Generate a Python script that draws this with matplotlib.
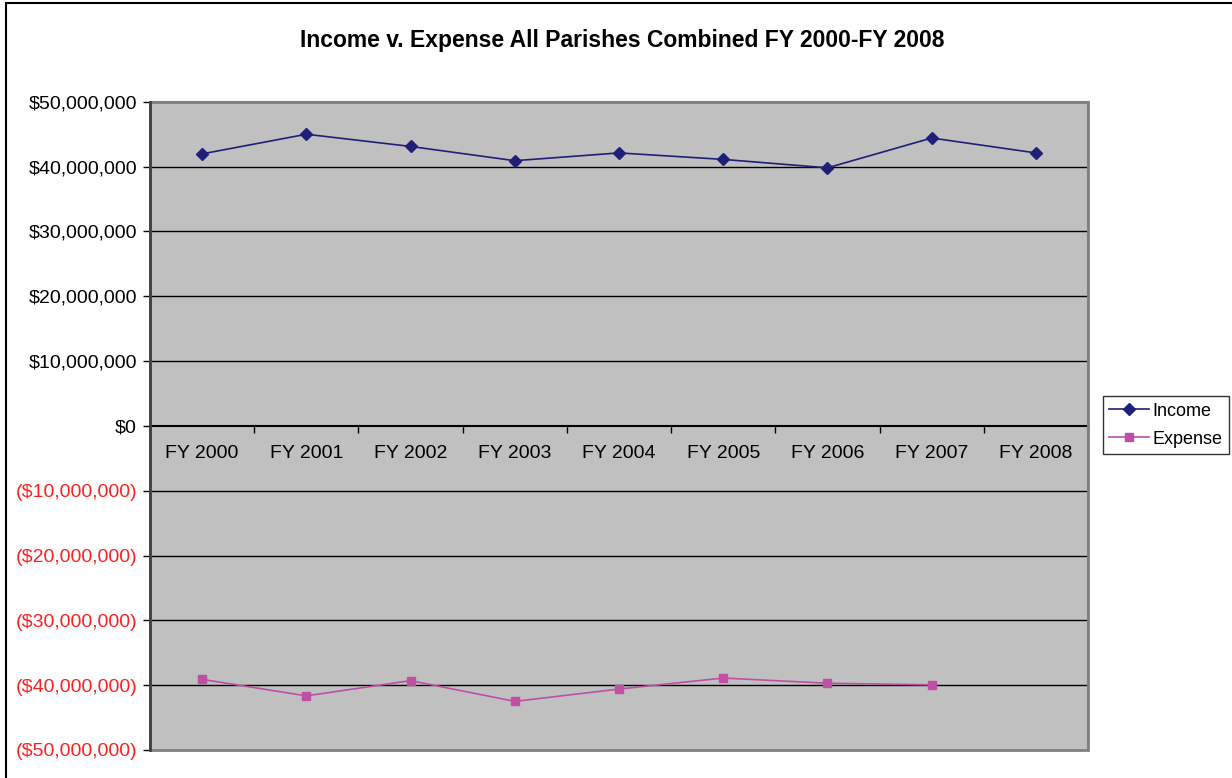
import matplotlib.pyplot as plt
from matplotlib.patches import Rectangle

years = ["FY 2000", "FY 2001", "FY 2002", "FY 2003", "FY 2004",
         "FY 2005", "FY 2006", "FY 2007", "FY 2008"]
income = [41.95e6, 44.98e6, 43.1e6, 40.9e6, 42.1e6, 41.1e6, 39.8e6, 44.4e6, 42.1e6]
expense = [-39.1e6, -41.65e6, -39.3e6, -42.5e6, -40.6e6, -38.9e6, -39.7e6, -39.95e6]
y_ticks = [50e6, 40e6, 30e6, 20e6, 10e6, 0, -10e6, -20e6, -30e6, -40e6, -50e6]


def money(v):
    s = "${:,.0f}".format(abs(v))
    return f"({s})" if v < 0 else s


plt.rcParams['font.family'] = ['Liberation Sans', 'DejaVu Sans']

fig = plt.figure(figsize=(12.32, 7.78), dpi=100)
ax = fig.add_axes([150 / 1232, 1 - 750 / 778, (1088 - 150) / 1232, (750 - 101.7) / 778])

# chart border (only top and left edges fall inside the picture)
fig.patches.append(Rectangle((5.5 / 1232, -0.1), 1.1, 1.1 - 3 / 778,
                             transform=fig.transFigure, fill=False,
                             edgecolor='black', linewidth=1.5))

ax.set_facecolor('#C0C0C0')
ax.set_xlim(-0.5, len(years) - 0.5)
ax.set_ylim(-50e6, 50e6)

for y in y_ticks[1:-1]:
    if y != 0:
        ax.axhline(y, color='black', linewidth=1, zorder=1)

ax.plot(range(len(income)), income, color='#1F1F78', marker='D', markersize=6,
        linewidth=1.2, label='Income', zorder=3)
ax.plot(range(len(expense)), expense, color='#BF4FA5', marker='s', markersize=6,
        linewidth=1.2, label='Expense', zorder=3)

ax.set_yticks(y_ticks, [money(v) for v in y_ticks])
for lab, v in zip(ax.get_yticklabels(), y_ticks):
    lab.set_color('#FF2020' if v < 0 else 'black')
ax.tick_params(axis='y', direction='out', length=5, width=1, pad=4.3, labelsize=14)

# category axis crossing at zero
ax.spines['bottom'].set_position(('data', 0))
ax.spines['bottom'].set_linewidth(1.5)
ax.spines['bottom'].set_zorder(2)
ax.set_xticks([i - 0.5 for i in range(len(years) + 1)])
ax.set_xticklabels([])
ax.set_xticks(range(len(years)), minor=True)
ax.set_xticklabels(years, minor=True)
ax.tick_params(axis='x', which='major', direction='out', length=5, width=1)
ax.tick_params(axis='x', which='minor', length=0, pad=14, labelsize=14)

ax.spines['left'].set_linewidth(2)
ax.spines['left'].set_color('#404040')
ax.spines['left'].set_zorder(4)
for side in ['top', 'right']:
    ax.spines[side].set_color('#808080')
    ax.spines[side].set_linewidth(1.5)
ax.add_patch(Rectangle((0, 0), 1, 1, transform=ax.transAxes, fill=False,
                       edgecolor='#808080', linewidth=2, zorder=2, clip_on=False))

fig.text(622 / 1232, 1 - 40 / 778, "Income v. Expense All Parishes Combined FY 2000-FY 2008",
         ha='center', va='center', fontsize=16.5, fontweight='bold')

leg = ax.legend(loc='center left', bbox_to_anchor=(1.016, 0.501), fontsize=13,
                frameon=True, fancybox=False, edgecolor='black', borderpad=0.35,
                handlelength=2.2, handletextpad=0.2, labelspacing=0.6, borderaxespad=0)
leg.get_frame().set_linewidth(1)

fig.savefig("out.png", dpi=100)
